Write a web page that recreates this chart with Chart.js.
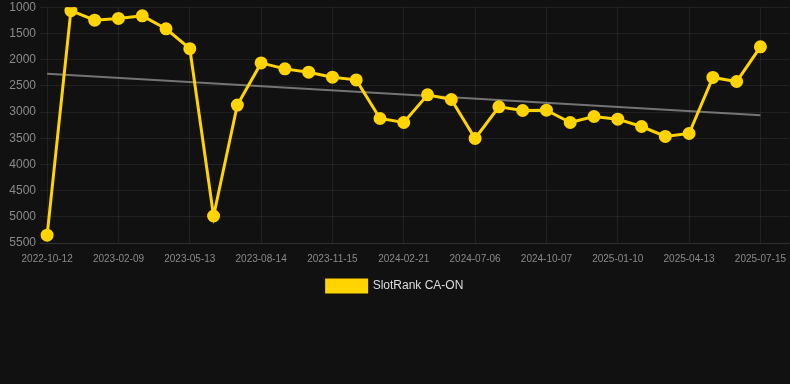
<!DOCTYPE html>
<html>
<head>
<meta charset="utf-8">
<script src="https://cdn.jsdelivr.net/npm/chart.js@4.4.1/dist/chart.umd.min.js"></script>
<style>
  html, body { margin: 0; padding: 0; background: #111111; }
  #wrap { width: 790px; height: 302px; }
</style>
</head>
<body>
<div id="wrap"><canvas id="chart"></canvas></div>
<script>
// dates of each ranking snapshot (only every third one shows on the axis)
const dates = [
  '2022-10-12', '2022-11-20', '2022-12-28',
  '2023-02-09', '2023-03-14', '2023-04-12',
  '2023-05-13', '2023-06-15', '2023-07-15',
  '2023-08-14', '2023-09-15', '2023-10-15',
  '2023-11-15', '2023-12-18', '2024-01-20',
  '2024-02-21', '2024-03-30', '2024-05-20',
  '2024-07-06', '2024-08-05', '2024-09-06',
  '2024-10-07', '2024-11-08', '2024-12-10',
  '2025-01-10', '2025-02-10', '2025-03-12',
  '2025-04-13', '2025-05-14', '2025-06-14',
  '2025-07-15'
];

const rankValues = [
  5350, 1065, 1247, 1215, 1165, 1412, 1791, 4985, 2867, 2063,
  2177, 2240, 2336, 2387, 3124, 3200, 2673, 2761, 3505, 2902,
  2971, 2965, 3200, 3086, 3137, 3277, 3467, 3410, 2341, 2418,
  1757
];

// trend line end points (first and last snapshot)
const trendStart = 2272;
const trendEnd = 3061;

const yTicks = [1000, 1500, 2000, 2500, 3000, 3500, 4000, 4500, 5000, 5500];

const gridColor = 'rgba(255, 255, 255, 0.07)';
const tickColor = '#8a8a8a';
const yellow = '#FFD400';

const rankPoints = rankValues.map((v, i) => ({ x: i, y: v }));
const trendPoints = [
  { x: 0, y: trendStart },
  { x: dates.length - 1, y: trendEnd }
];

Chart.defaults.font.family = '"Liberation Sans", Arial, Helvetica, sans-serif';

new Chart(document.getElementById('chart'), {
  type: 'line',
  data: {
    datasets: [{
      label: 'SlotRank CA-ON',
      data: rankPoints,
      borderColor: yellow,
      backgroundColor: yellow,
      borderWidth: 3,
      pointRadius: 5,
      pointBackgroundColor: yellow,
      pointBorderColor: yellow,
      tension: 0
    }, {
      label: 'Trend',
      data: trendPoints,
      borderColor: 'rgba(150, 150, 150, 0.75)',
      borderWidth: 2,
      pointRadius: 0,
      fill: false
    }]
  },
  options: {
    responsive: true,
    maintainAspectRatio: false,
    animation: false,
    layout: { padding: 0, autoPadding: false },
    scales: {
      x: {
        type: 'linear',
        min: -0.3,
        max: 31.22,
        afterBuildTicks: (scale) => {
          const out = [];
          for (let i = 0; i < dates.length; i += 3) out.push({ value: i });
          scale.ticks = out;
        },
        grid: { color: gridColor, drawTicks: true, tickLength: 6, tickColor: 'rgba(0,0,0,0)' },
        border: { color: gridColor },
        ticks: {
          color: tickColor,
          font: { size: 10 },
          padding: 4,
          maxRotation: 0,
          autoSkip: false,
          callback: (v) => dates[v] || ''
        }
      },
      y: {
        reverse: true,
        min: 1000,
        max: 5500,
        afterBuildTicks: (scale) => {
          scale.ticks = yTicks.map(v => ({ value: v }));
        },
        afterFit: (scale) => { scale.width = 40; },
        grid: { color: gridColor, drawTicks: true, tickLength: 4, tickColor: 'rgba(0,0,0,0)' },
        border: { display: false },
        ticks: {
          color: tickColor,
          font: { size: 12 },
          padding: 0,
          callback: (v) => String(v)
        }
      }
    },
    plugins: {
      legend: {
        position: 'bottom',
        labels: {
          color: '#dddddd',
          boxWidth: 40,
          boxHeight: 12,
          padding: 11,
          font: { size: 12 },
          filter: (item) => item.datasetIndex === 0
        }
      },
      tooltip: { enabled: false }
    }
  }
});
</script>
</body>
</html>
